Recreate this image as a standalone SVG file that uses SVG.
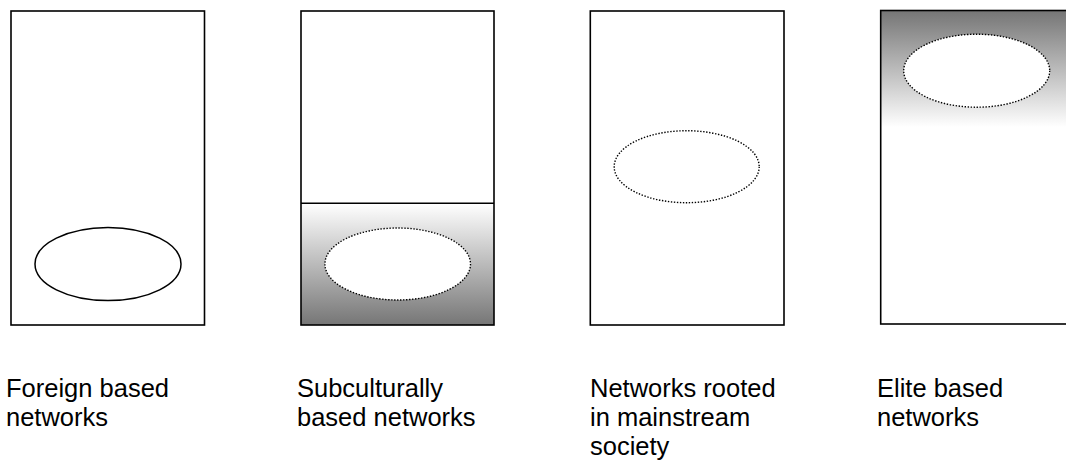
<svg xmlns="http://www.w3.org/2000/svg" width="1066" height="461" viewBox="0 0 1066 461">
<style>
.box{fill:none;stroke:#000;stroke-width:1.6}
.solid{fill:#fff;stroke:#000;stroke-width:1.5}
.dot{fill:#fff;stroke:#000;stroke-width:1.4;stroke-dasharray:1.4 1.6}
.lbl{font-family:"Liberation Sans",Arial,sans-serif;font-size:25.5px;fill:#000}
</style>
<defs>
<linearGradient id="gUp" x1="0" y1="0" x2="0" y2="1">
<stop offset="0" stop-color="#ffffff"/>
<stop offset="1" stop-color="#767676"/>
</linearGradient>
<linearGradient id="gDown" x1="0" y1="11" x2="0" y2="325" gradientUnits="userSpaceOnUse">
<stop offset="0" stop-color="#767676"/>
<stop offset="0.37" stop-color="#ffffff"/>
<stop offset="1" stop-color="#ffffff"/>
</linearGradient>
</defs>
<rect width="1066" height="461" fill="#fff"/>
<g id="foreign">
<rect class="box" x="11" y="11" width="193.5" height="314"/>
<ellipse class="solid" cx="108" cy="264" rx="73" ry="36.5"/>
<text class="lbl" x="6" y="396.5">Foreign based</text>
<text class="lbl" x="6" y="425.5">networks</text>
</g>
<g id="subcultural">
<rect x="301" y="203.3" width="193" height="121.7" fill="url(#gUp)"/>
<rect class="box" x="301" y="11" width="193" height="314"/>
<line class="box" x1="301" y1="203.3" x2="494" y2="203.3"/>
<ellipse class="dot" cx="397.7" cy="264" rx="72.8" ry="36"/>
<text class="lbl" x="297" y="396.5">Subculturally</text>
<text class="lbl" x="297" y="425.5">based networks</text>
</g>
<g id="mainstream">
<rect class="box" x="590.3" y="11" width="193.7" height="314"/>
<ellipse class="dot" cx="686.7" cy="166.7" rx="72.5" ry="36"/>
<text class="lbl" x="590" y="396.5">Networks rooted</text>
<text class="lbl" x="590" y="425.5">in mainstream</text>
<text class="lbl" x="590" y="454.5">society</text>
</g>
<g id="elite">
<rect x="880.7" y="10.5" width="194" height="313.5" fill="url(#gDown)"/>
<rect class="box" x="880.7" y="10.5" width="194" height="313.5"/>
<ellipse class="dot" cx="976.7" cy="70.7" rx="73" ry="36.5"/>
<text class="lbl" x="877" y="396.5">Elite based</text>
<text class="lbl" x="877" y="425.5">networks</text>
</g>
<g id="connectors"/>
</svg>
